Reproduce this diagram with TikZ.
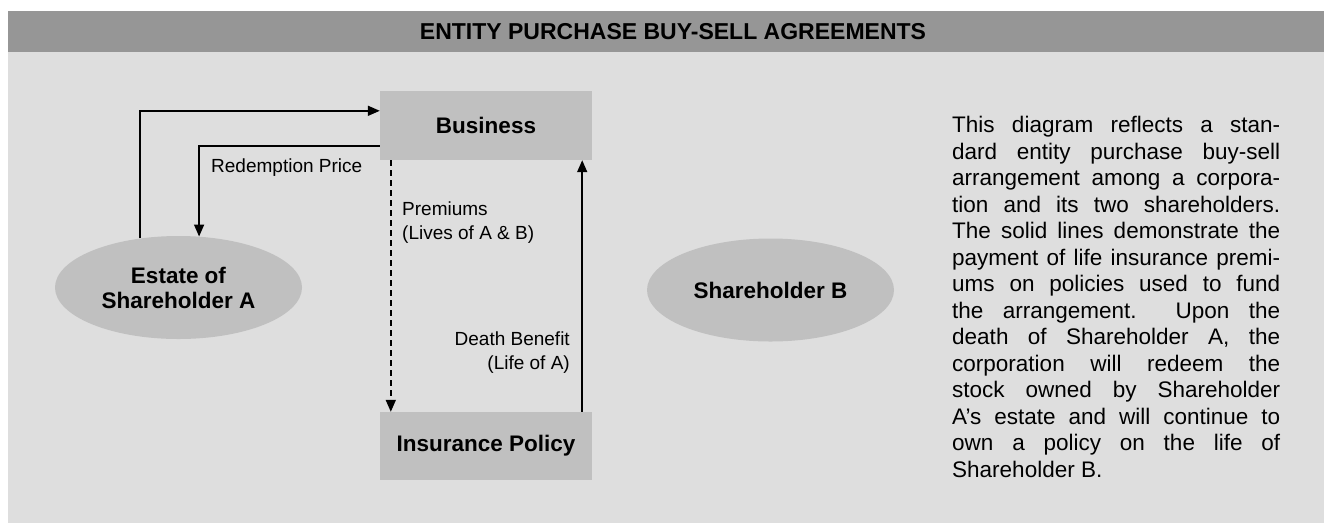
\documentclass[tikz,border=0pt]{standalone}
\usepackage{fontspec}
\setmainfont{Liberation Sans}
\usetikzlibrary{arrows.meta,shapes.geometric}

\definecolor{panelgray}{HTML}{DEDEDE}
\definecolor{bargray}{HTML}{969696}
\definecolor{boxgray}{HTML}{C0C0C0}

\hyphenpenalty=10000
\tolerance=10000

\begin{document}
\begin{tikzpicture}[x=1pt, y=-1pt,
  boxnode/.style={rectangle, fill=boxgray, minimum width=212pt, minimum height=69pt,
    inner sep=0pt, font=\fontsize{22.5}{25}\selectfont\bfseries},
  ellnode/.style={ellipse, fill=boxgray, minimum width=247pt, minimum height=103pt,
    inner sep=0pt, align=center, font=\fontsize{22.5}{25}\selectfont\bfseries},
  flow/.style={line width=1.6pt, -{Triangle[length=12pt,width=10pt]}},
  lbl/.style={inner sep=0pt, font=\fontsize{19}{24}\selectfont}]

% Panel and title bar
\useasboundingbox (0,0) rectangle (1324,523);
\fill[panelgray] (8,52) rectangle (1324,523);
\fill[bargray] (8,11) rectangle (1324,52);
\node[font=\fontsize{23}{25}\selectfont\bfseries] (title) at (673,31.5) {ENTITY PURCHASE BUY-SELL AGREEMENTS};

% Parties
\node[boxnode] (business) at (486,125.5) {Business};
\node[boxnode, minimum height=68pt] (policy) at (486,446) {Insurance Policy};
\node[ellnode] (estate) at (178.5,287.5) {Estate of\\Shareholder A};
\node[ellnode] (holderB) at (770.5,290) {Shareholder B};

% Flows
\draw[flow] (estate.128) |- ([yshift=-20pt]business.north west);
\draw[flow] ([yshift=14pt]business.south west) -| (estate.68);
\draw[flow, dash pattern=on 6pt off 4pt] ([xshift=11pt]business.south west) -- ([xshift=11pt]policy.north west);
\draw[flow] ([xshift=-10pt]policy.north east) -- ([xshift=-10pt]business.south east);

% Labels
\node[lbl, anchor=west] (redeem) at (211,168) {Redemption Price};
\node[lbl, anchor=west, align=left] (premiums) at (402,223) {Premiums\\(Lives of A \& B)};
\node[lbl, anchor=east, align=right] (benefit) at (570,353) {Death Benefit\\(Life of A)};

% Explanation
\node[inner sep=0pt, anchor=north west, text width=328pt, align=justify,
  font=\fontsize{22.5}{26.5}\selectfont] (note) at (952,116) {This diagram reflects a stan-\linebreak
dard entity purchase buy-sell\linebreak
arrangement among a corpora-\linebreak
tion and its two shareholders.\linebreak
The solid lines demonstrate the\linebreak
payment of life insurance premi-\linebreak
ums on policies used to fund\linebreak
the arrangement.\ \ Upon the\linebreak
death of Shareholder A, the\linebreak
corporation will redeem the\linebreak
stock owned by Shareholder\linebreak
A's estate and will continue to\linebreak
own a policy on the life of\linebreak
Shareholder B.};

\end{tikzpicture}
\end{document}
